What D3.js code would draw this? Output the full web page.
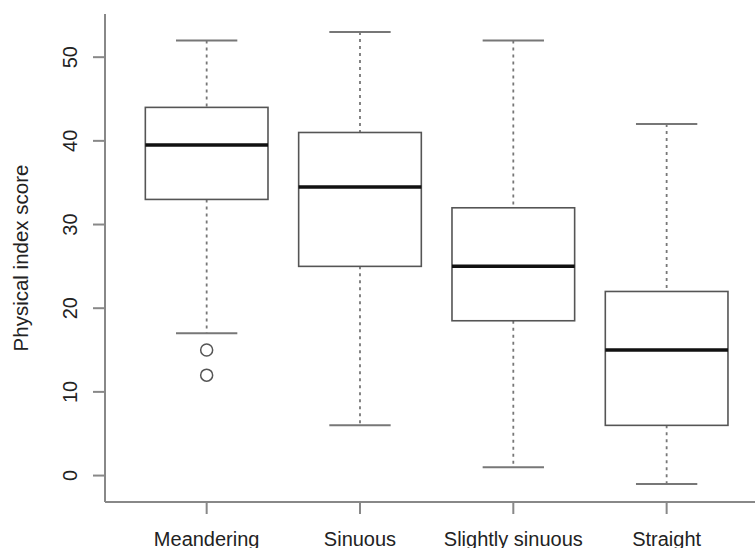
<!DOCTYPE html>
<html><head><meta charset="utf-8">
<script src="https://cdn.jsdelivr.net/npm/d3@7"></script>
<style>body{margin:0;background:#fff}svg{display:block}</style>
</head><body>
<script>
const categories = ["Meandering", "Sinuous", "Slightly sinuous", "Straight"];
const whiskerLow = [17, 6, 1, -1];
const q1 = [33, 25, 18.5, 6];
const median = [39.5, 34.5, 25, 15];
const q3 = [44, 41, 32, 22];
const whiskerHigh = [52, 53, 52, 42];
const outliers = [[15, 12], [], [], []];
const yTicks = [0, 10, 20, 30, 40, 50];

const W = 755, H = 548;
const svg = d3.select("body").append("svg").attr("width", W).attr("height", H);
const font = "'Liberation Sans', Arial, Helvetica, sans-serif";

const x = d3.scaleLinear().domain([0.5, 4.5]).range([130, 743.3]);
const y = d3.scaleLinear().domain([-3.16, 55.16]).range([502, 14]);
const bw = 0.8, cw = 0.4;

const data = categories.map((c, i) => ({c, i: i + 1, lo: whiskerLow[i], q1: q1[i], med: median[i], q3: q3[i], hi: whiskerHigh[i], out: outliers[i]}));

const g = svg.append("g");
data.forEach(d => {
  g.append("line").attr("x1", x(d.i)).attr("x2", x(d.i)).attr("y1", y(d.hi)).attr("y2", y(d.q3))
    .attr("stroke", "#777").attr("stroke-width", 1.8).attr("stroke-dasharray", "3,4");
  g.append("line").attr("x1", x(d.i)).attr("x2", x(d.i)).attr("y1", y(d.q1)).attr("y2", y(d.lo))
    .attr("stroke", "#777").attr("stroke-width", 1.8).attr("stroke-dasharray", "3,4");
  [d.hi, d.lo].forEach(v => g.append("line").attr("x1", x(d.i - cw / 2)).attr("x2", x(d.i + cw / 2))
    .attr("y1", y(v)).attr("y2", y(v)).attr("stroke", "#777").attr("stroke-width", 2));
  g.append("rect").attr("x", x(d.i - bw / 2)).attr("width", x(d.i + bw / 2) - x(d.i - bw / 2))
    .attr("y", y(d.q3)).attr("height", y(d.q1) - y(d.q3))
    .attr("fill", "none").attr("stroke", "#555").attr("stroke-width", 1.6);
  g.append("line").attr("x1", x(d.i - bw / 2)).attr("x2", x(d.i + bw / 2)).attr("y1", y(d.med)).attr("y2", y(d.med))
    .attr("stroke", "#111").attr("stroke-width", 3.5);
  d.out.forEach(v => g.append("circle").attr("cx", x(d.i)).attr("cy", y(v)).attr("r", 6)
    .attr("fill", "none").attr("stroke", "#555").attr("stroke-width", 1.5));
});

svg.append("line").attr("x1", 105).attr("x2", 105).attr("y1", y.range()[1]).attr("y2", y.range()[0])
  .attr("stroke", "#888").attr("stroke-width", 2);
svg.append("line").attr("x1", 105).attr("x2", W).attr("y1", y.range()[0]).attr("y2", y.range()[0])
  .attr("stroke", "#888").attr("stroke-width", 2);

yTicks.forEach(t => {
  svg.append("line").attr("x1", 93).attr("x2", 105).attr("y1", y(t)).attr("y2", y(t)).attr("stroke", "#888").attr("stroke-width", 2);
  svg.append("text").attr("transform", `translate(77,${y(t)}) rotate(-90)`).attr("text-anchor", "middle")
    .attr("font-family", font).attr("font-size", 20).attr("fill", "#222").text(t);
});
data.forEach(d => {
  svg.append("line").attr("x1", x(d.i)).attr("x2", x(d.i)).attr("y1", 502).attr("y2", 514).attr("stroke", "#888").attr("stroke-width", 2);
  svg.append("text").attr("x", x(d.i)).attr("y", 545.5).attr("text-anchor", "middle")
    .attr("font-family", font).attr("font-size", 20).attr("fill", "#222").text(d.c);
});
svg.append("text").attr("transform", `translate(28,${(y.range()[0] + y.range()[1]) / 2}) rotate(-90)`)
  .attr("text-anchor", "middle").attr("font-family", font).attr("font-size", 20.5).attr("fill", "#222")
  .text("Physical index score");
</script>
</body></html>
